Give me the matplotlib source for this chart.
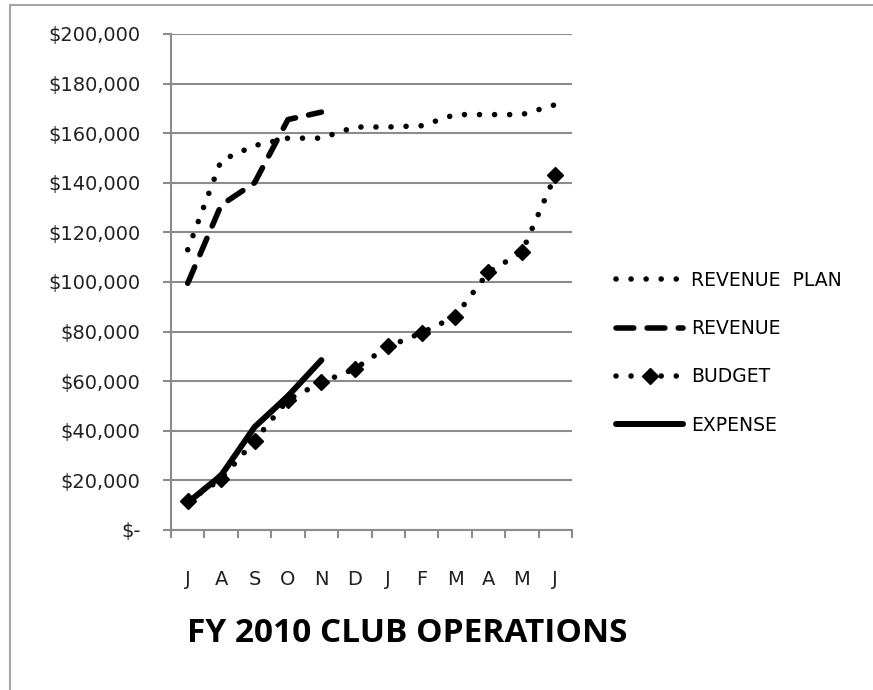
import matplotlib.pyplot as plt
from matplotlib.patches import Rectangle
from matplotlib.ticker import FuncFormatter

months = ["J", "A", "S", "O", "N", "D", "J", "F", "M", "A", "M", "J"]
revenue_plan = [113000, 149000, 155000, 158000, 158000, 162500,
                162500, 163000, 167500, 167500, 167500, 171500]
revenue = [99500, 131000, 140000, 165500, 168500]
budget = [11500, 20500, 36000, 52500, 59500, 65000,
          74000, 79500, 86000, 104000, 112000, 143000]
expense = [11000, 22000, 41500, 54000, 68500]

plt.rcParams["font.family"] = ["DejaVu Sans"]

fig = plt.figure(figsize=(8.73, 6.9), dpi=100)
ax = fig.add_axes([171 / 873, 1 - 530 / 690, 401 / 873, 496 / 690])

grey = "#8c8c8c"
x = list(range(len(months)))

plan_line, = ax.plot(x, revenue_plan, color="black", lw=4,
                     linestyle=(0, (0.01, 2.7)), dash_capstyle="round")
rev_line, = ax.plot(x[:len(revenue)], revenue, color="black", lw=4,
                    linestyle=(0, (3.2, 2.4)), dash_capstyle="round")
bud_line, = ax.plot(x, budget, color="black", lw=4,
                    linestyle=(0, (0.01, 2.7)), dash_capstyle="round",
                    marker="D", markersize=8)
exp_line, = ax.plot(x[:len(expense)], expense, color="black", lw=4.3,
                    solid_capstyle="round")

ax.set_xlim(-0.5, len(months) - 0.5)
ax.set_ylim(0, 200000)
ax.set_yticks(range(0, 200001, 20000))
ax.yaxis.set_major_formatter(FuncFormatter(
    lambda v, _: "$-" if v == 0 else f"${v:,.0f}"))
ax.set_xticks(x)
ax.set_xticklabels(months)
ax.set_xticks([i - 0.5 for i in range(len(months) + 1)], minor=True)

ax.grid(axis="y", color=grey, lw=1.5)
ax.set_axisbelow(True)
for side in ("top", "right"):
    ax.spines[side].set_visible(False)
for side in ("left", "bottom"):
    ax.spines[side].set_color(grey)
    ax.spines[side].set_linewidth(1.5)

ax.tick_params(axis="y", length=6, width=1.5, color=grey, pad=16,
               labelsize=14, labelcolor="#222222")
ax.tick_params(axis="x", which="major", length=0, pad=29, labelsize=14,
               labelcolor="#222222")
ax.tick_params(axis="x", which="minor", length=6, width=1.5, color=grey)

handles = [plan_line, rev_line, bud_line, exp_line]
labels = ["REVENUE  PLAN", "REVENUE", "BUDGET", "EXPENSE"]
fig.legend(handles, labels, loc="upper left",
           bbox_to_anchor=(599 / 873, 1 - 254 / 690), frameon=False,
           handlelength=3.6, handletextpad=0.43, labelspacing=1.56,
           fontsize=13.5)

fig.text(407 / 873, 1 - 634 / 690, "FY 2010 CLUB OPERATIONS",
         family="Open Sans", ha="center", va="center", fontsize=24,
         fontweight="bold")

fig.patches.append(Rectangle((10 / 873, -0.1), 1.2, 1 - 5.5 / 690 + 0.1,
                             transform=fig.transFigure, fill=False,
                             edgecolor="#a6a6a6", lw=1.5))

fig.savefig("out.png", dpi=100)
